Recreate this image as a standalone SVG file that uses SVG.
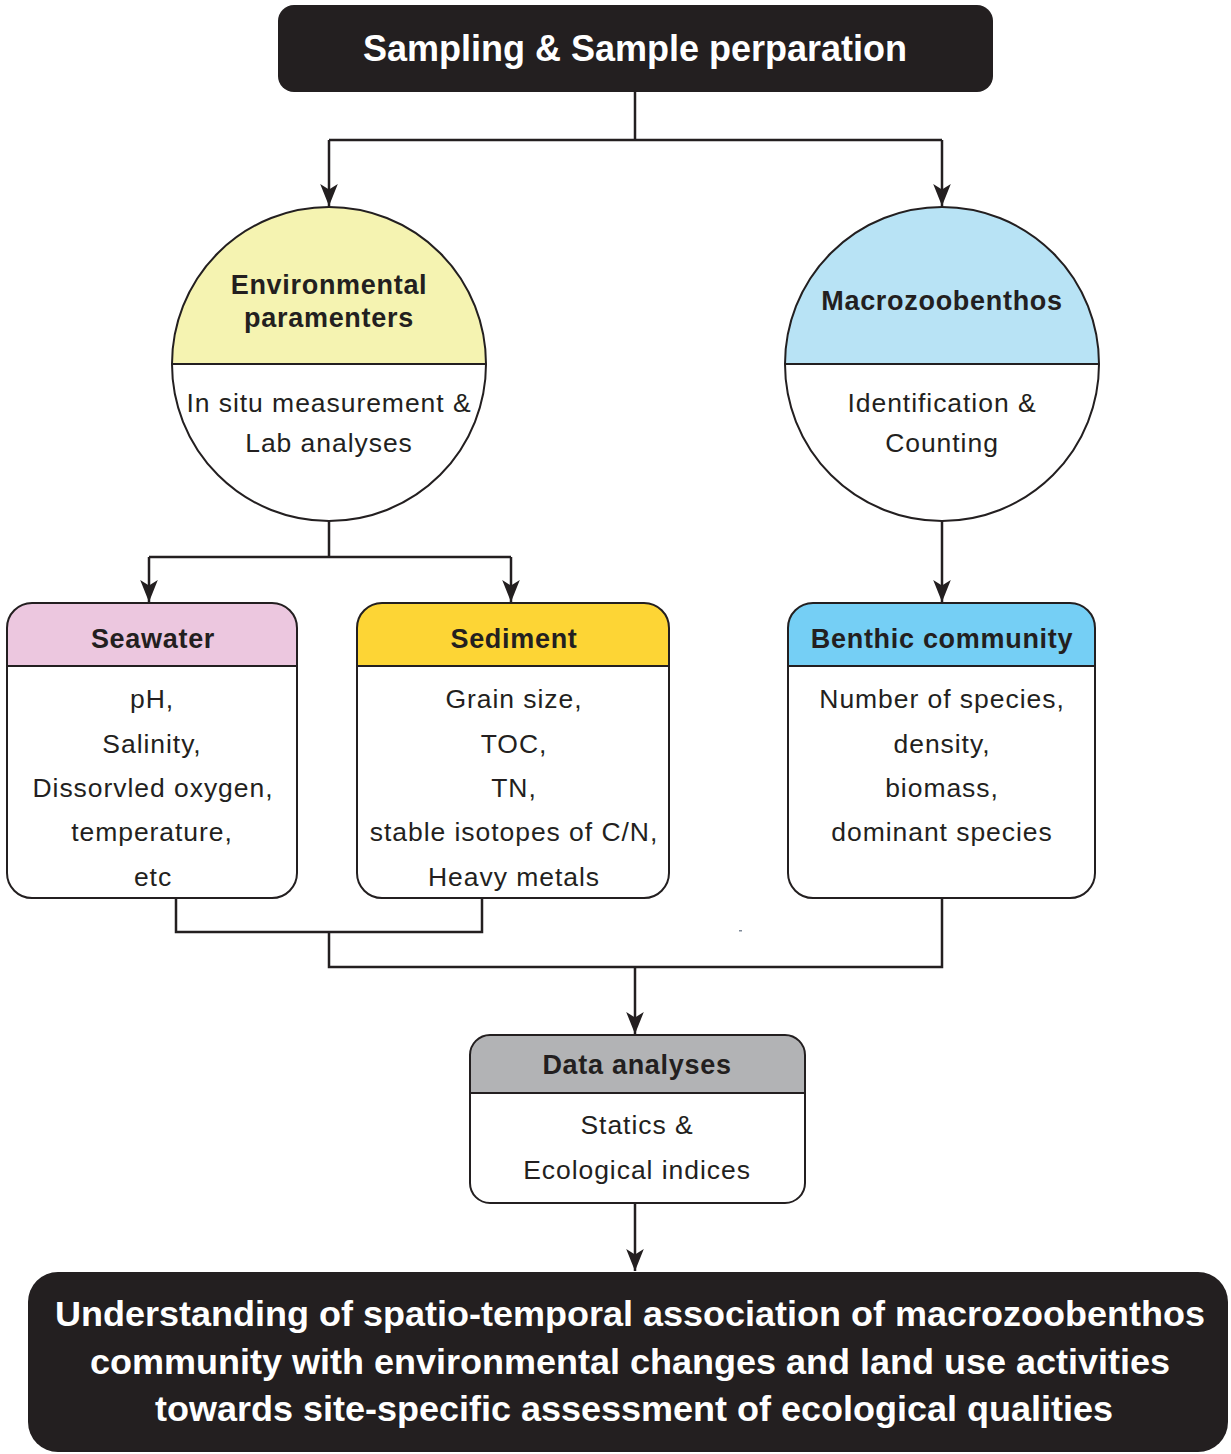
<svg xmlns="http://www.w3.org/2000/svg" width="1231" height="1454" viewBox="0 0 1231 1454">
<style>
.ln{fill:none;stroke:#231f20;stroke-width:2.5}
.ol{fill:none;stroke:#231f20;stroke-width:2}
.t{font-family:"Liberation Sans",Arial,sans-serif;fill:#231f20;text-anchor:middle}
.b{font-weight:bold;font-size:27px;letter-spacing:0.7px}
.r{font-size:26.5px;letter-spacing:0.95px}
.w{font-family:"Liberation Sans",Arial,sans-serif;fill:#ffffff;text-anchor:middle;font-weight:bold}
</style>
<defs>
<marker id="ah" markerUnits="userSpaceOnUse" markerWidth="22" markerHeight="22" viewBox="0 0 20 20" refX="20" refY="10" orient="auto">
<path d="M0,2 L20,10 L0,18 L5,10 Z" fill="#231f20"/>
</marker>
</defs>
<rect width="1231" height="1454" fill="#ffffff"/>

<g id="connectors">
<path class="ln" d="M635,92 V140"/>
<path class="ln" d="M329,140 H942"/>
<path class="ln" d="M329,140 V206" marker-end="url(#ah)"/>
<path class="ln" d="M942,140 V206" marker-end="url(#ah)"/>
<path class="ln" d="M329,521 V557 M149,557 H511"/>
<path class="ln" d="M149,557 V602" marker-end="url(#ah)"/>
<path class="ln" d="M511,557 V602" marker-end="url(#ah)"/>
<path class="ln" d="M942,521 V602" marker-end="url(#ah)"/>
<path class="ln" d="M176,898 V932 H482 V898"/>
<path class="ln" d="M329,932 V967 H942 V898"/>
<path class="ln" d="M635,967 V1034" marker-end="url(#ah)"/>
<path class="ln" d="M635,1203 V1271" marker-end="url(#ah)"/>
<rect x="739" y="930" width="3" height="1.5" fill="#7f8a99"/>
</g>

<g id="node-sampling">
<rect x="278" y="5" width="715" height="87" rx="16" fill="#231f20"/>
<text class="w" x="635" y="61" font-size="36" textLength="544" lengthAdjust="spacingAndGlyphs">Sampling &amp; Sample perparation</text>
</g>

<g id="node-environmental">
<path d="M172,364 A157,157 0 0 1 486,364 Z" fill="#f5f3b1"/>
<path d="M172,364 A157,157 0 0 0 486,364 Z" fill="#ffffff"/>
<circle class="ol" cx="329" cy="364" r="157"/>
<path class="ol" d="M172,364 H486"/>
<text class="t b" x="329" y="294">Environmental</text>
<text class="t b" x="329" y="327">paramenters</text>
<text class="t r" x="329" y="412">In situ measurement &amp;</text>
<text class="t r" x="329" y="452">Lab analyses</text>
</g>

<g id="node-macrozoobenthos">
<path d="M785,364 A157,157 0 0 1 1099,364 Z" fill="#b8e3f5"/>
<path d="M785,364 A157,157 0 0 0 1099,364 Z" fill="#ffffff"/>
<circle class="ol" cx="942" cy="364" r="157"/>
<path class="ol" d="M785,364 H1099"/>
<text class="t b" x="942" y="310">Macrozoobenthos</text>
<text class="t r" x="942" y="412">Identification &amp;</text>
<text class="t r" x="942" y="452">Counting</text>
</g>

<g id="node-seawater">
<rect x="7" y="603" width="290" height="295" rx="25" fill="#ffffff"/>
<path d="M7,628 A25,25 0 0 1 32,603 H272 A25,25 0 0 1 297,628 V666 H7 Z" fill="#ecc7df"/>
<rect class="ol" x="7" y="603" width="290" height="295" rx="25"/>
<path class="ol" d="M7,666 H297"/>
<text class="t b" x="153" y="648">Seawater</text>
<text class="t r" x="152" y="708">pH,</text>
<text class="t r" x="152" y="753">Salinity,</text>
<text class="t r" x="153" y="797">Dissorvled oxygen,</text>
<text class="t r" x="152" y="841">temperature,</text>
<text class="t r" x="153" y="886">etc</text>
</g>

<g id="node-sediment">
<rect x="357" y="603" width="312" height="295" rx="25" fill="#ffffff"/>
<path d="M357,628 A25,25 0 0 1 382,603 H644 A25,25 0 0 1 669,628 V666 H357 Z" fill="#fdd535"/>
<rect class="ol" x="357" y="603" width="312" height="295" rx="25"/>
<path class="ol" d="M357,666 H669"/>
<text class="t b" x="514" y="648">Sediment</text>
<text class="t r" x="514" y="708">Grain size,</text>
<text class="t r" x="514" y="753">TOC,</text>
<text class="t r" x="514" y="797">TN,</text>
<text class="t r" x="514" y="841">stable isotopes of C/N,</text>
<text class="t r" x="514" y="886">Heavy metals</text>
</g>

<g id="node-benthic">
<rect x="788" y="603" width="307" height="295" rx="25" fill="#ffffff"/>
<path d="M788,628 A25,25 0 0 1 813,603 H1070 A25,25 0 0 1 1095,628 V666 H788 Z" fill="#75cff5"/>
<rect class="ol" x="788" y="603" width="307" height="295" rx="25"/>
<path class="ol" d="M788,666 H1095"/>
<text class="t b" x="942" y="648">Benthic community</text>
<text class="t r" x="942" y="708">Number of species,</text>
<text class="t r" x="942" y="753">density,</text>
<text class="t r" x="942" y="797">biomass,</text>
<text class="t r" x="942" y="841">dominant species</text>
</g>

<g id="node-data">
<rect x="470" y="1035" width="335" height="168" rx="20" fill="#ffffff"/>
<path d="M470,1055 A20,20 0 0 1 490,1035 H785 A20,20 0 0 1 805,1055 V1093 H470 Z" fill="#b2b3b5"/>
<rect class="ol" x="470" y="1035" width="335" height="168" rx="20"/>
<path class="ol" d="M470,1093 H805"/>
<text class="t b" x="637" y="1074">Data analyses</text>
<text class="t r" x="637" y="1134">Statics &amp;</text>
<text class="t r" x="637" y="1179">Ecological indices</text>
</g>

<g id="node-understanding">
<rect x="28" y="1272" width="1200" height="180" rx="30" fill="#231f20"/>
<text class="w" x="630" y="1326" font-size="35" textLength="1150" lengthAdjust="spacingAndGlyphs">Understanding of spatio-temporal association of macrozoobenthos</text>
<text class="w" x="630" y="1374" font-size="35" textLength="1080" lengthAdjust="spacingAndGlyphs">community with environmental changes and land use activities</text>
<text class="w" x="634" y="1421" font-size="35" textLength="958" lengthAdjust="spacingAndGlyphs">towards site-specific assessment of ecological qualities</text>
</g>
</svg>
